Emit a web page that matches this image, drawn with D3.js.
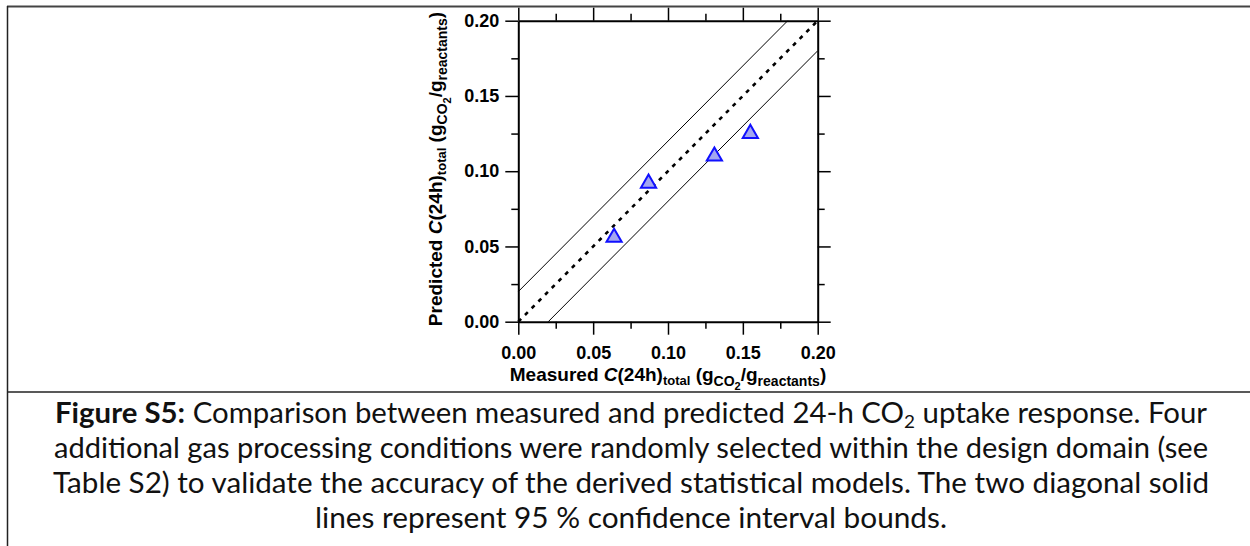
<!DOCTYPE html>
<html>
<head>
<meta charset="utf-8">
<script src="https://cdn.jsdelivr.net/npm/d3@7"></script>
<style>
  body { margin: 0; background: #fff; }
  .tick text { font-family: "Liberation Sans", Arial, sans-serif; font-weight: bold; font-size: 18px; fill: #000; }
</style>
</head>
<body>
<svg id="chart" width="1250" height="546"></svg>
<script>
// data
var measured  = [0.064, 0.087, 0.131, 0.155];
var predicted = [0.056, 0.092, 0.110, 0.125];
var majorTicks = [0, 0.05, 0.10, 0.15, 0.20];
var minorTicks = [0.025, 0.075, 0.125, 0.175];
var ciOffset = 0.02;
var captionLines = [
  [["Figure S5:", true], [" Comparison between measured and predicted 24-h CO", false], ["2", false, "sub"], [" uptake response. Four", false]],
  [["additional gas processing conditions were randomly selected within the design domain (see", false]],
  [["Table S2) to validate the accuracy of the derived statistical models. The two diagonal solid", false]],
  [["lines represent 95 % confidence interval bounds.", false]]
];

var svg = d3.select("#chart");

// page frame
svg.append("line").attr("x1", 7).attr("x2", 1250).attr("y1", 6.5).attr("y2", 6.5)
  .attr("stroke", "#444").attr("stroke-width", 2);
svg.append("line").attr("x1", 7.5).attr("x2", 7.5).attr("y1", 6).attr("y2", 546)
  .attr("stroke", "#222").attr("stroke-width", 1.5);
svg.append("line").attr("x1", 7).attr("x2", 1250).attr("y1", 392).attr("y2", 392)
  .attr("stroke", "#222").attr("stroke-width", 1.5);

var x = d3.scaleLinear().domain([0, 0.2]).range([518.3, 817.7]);
var y = d3.scaleLinear().domain([0, 0.2]).range([321.7, 20.7]);
var fmt = d3.format(".2f");

function drawAxis(axisFn, scale, tx, ty, labels) {
  var g = svg.append("g").attr("transform", "translate(" + tx + "," + ty + ")");
  g.call(axisFn(scale).tickValues(minorTicks).tickSize(7).tickSizeOuter(0).tickFormat(""));
  g.select(".domain").remove();
  var m = svg.append("g").attr("transform", "translate(" + tx + "," + ty + ")");
  m.call(axisFn(scale).tickValues(majorTicks).tickSize(13).tickSizeOuter(0)
    .tickPadding(axisFn === d3.axisBottom ? 12 : 6)
    .tickFormat(labels ? fmt : ""));
  m.select(".domain").attr("stroke-width", 2);
  g.selectAll(".tick line").attr("stroke-width", 1.5);
  m.selectAll(".tick line").attr("stroke-width", 1.5);
}
drawAxis(d3.axisBottom, x, 0, y(0), true);
drawAxis(d3.axisTop, x, 0, y(0.2), false);
drawAxis(d3.axisLeft, y, x(0), 0, true);
drawAxis(d3.axisRight, y, x(0.2), 0, false);

// 1:1 line and 95 % bounds
var line = d3.line().x(function(d){ return x(d[0]); }).y(function(d){ return y(d[1]); });
svg.append("path").attr("d", line([[0, 0], [0.2, 0.2]]))
  .attr("stroke", "#000").attr("stroke-width", 2.6).attr("stroke-dasharray", "4,5.5").attr("fill", "none");
svg.append("path").attr("d", line([[0, ciOffset], [0.2 - ciOffset, 0.2]]))
  .attr("stroke", "#000").attr("stroke-width", 1).attr("fill", "none");
svg.append("path").attr("d", line([[ciOffset, 0], [0.2, 0.2 - ciOffset]]))
  .attr("stroke", "#000").attr("stroke-width", 1).attr("fill", "none");

// points
var tri = d3.symbol().type(d3.symbolTriangle).size(100);
svg.selectAll(".pt").data(measured).enter().append("path")
  .attr("class", "pt")
  .attr("d", tri)
  .attr("transform", function(d, i){ return "translate(" + x(d) + "," + y(predicted[i]) + ")"; })
  .attr("fill", "#a3a7f0").attr("stroke", "#1010ff").attr("stroke-width", 2);

// axis titles with sub/superscripts
function richText(parent, parts) {
  var t = parent.append("text")
    .attr("font-family", "'Liberation Sans', Arial, sans-serif")
    .attr("font-weight", "bold").attr("text-anchor", "middle").attr("fill", "#000");
  var shift = 0;
  parts.forEach(function(p){
    var s = t.append("tspan").text(p[0]).attr("font-size", p[1]);
    var want = p[2] || 0;
    s.attr("dy", want - shift);
    shift = want;
    if (p[3]) s.attr("font-style", "italic");
  });
  return t;
}
var titleParts = function(first) {
  return [[first, 19], ["C", 19, 0, true], ["(24h)", 19], ["total", 13, 4], [" (g", 19, 0],
          ["CO", 14, 5], ["2", 11, 9], ["/g", 19, 0], ["reactants", 14, 5], [")", 19, 0]];
};
richText(svg.append("g").attr("transform", "translate(668,381)"), titleParts("Measured "));
richText(svg.append("g").attr("transform", "translate(442,169) rotate(-90)"), titleParts("Predicted "));

// caption
var capW = [1152, 1154, 1156, 632];
captionLines.forEach(function(parts, i){
  var t = svg.append("text")
    .attr("x", 631).attr("y", 423 + i * 35)
    .attr("text-anchor", "middle")
    .attr("font-family", "Lato, 'Open Sans', sans-serif").attr("font-size", 28).attr("fill", "#111")
    .attr("textLength", capW[i]).attr("lengthAdjust", "spacingAndGlyphs");
  parts.forEach(function(p){
    var s = t.append("tspan").text(p[0]);
    if (p[1]) s.attr("font-weight", "bold");
    if (p[2] === "sub") s.attr("font-size", 18).attr("dy", 5);
    else if (s.node().previousSibling && d3.select(s.node().previousSibling).attr("dy")) s.attr("dy", -5);
  });
});
</script>
</body>
</html>
